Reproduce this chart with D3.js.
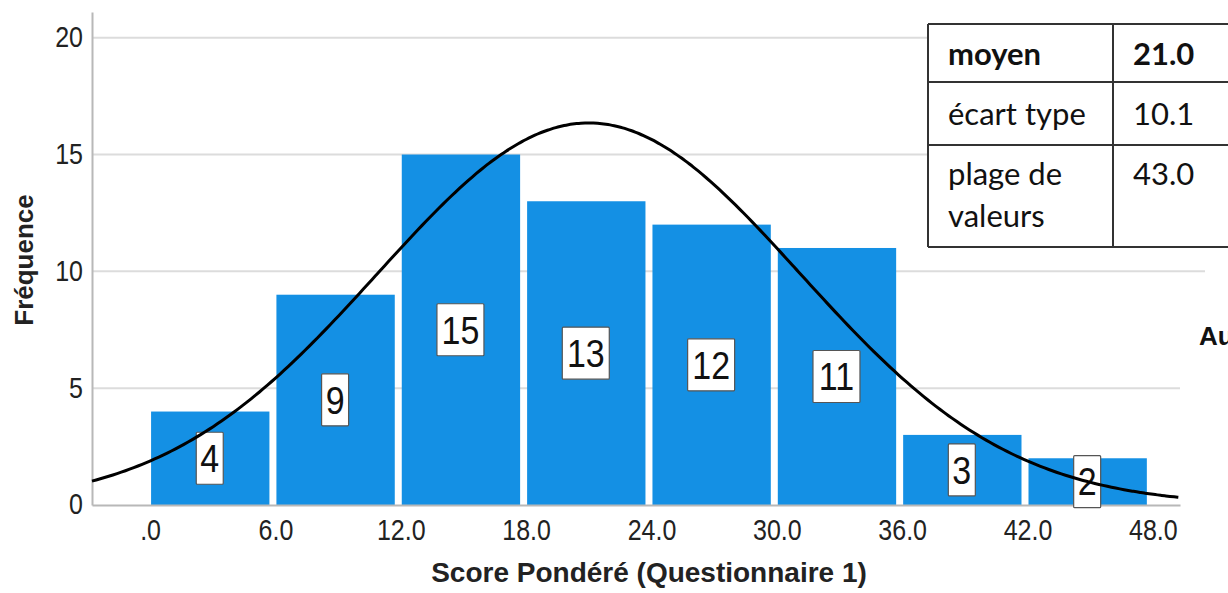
<!DOCTYPE html>
<html>
<head>
<meta charset="utf-8">
<script src="https://cdn.jsdelivr.net/npm/d3@7"></script>
<style>
  body { margin: 0; background: #fff; }
  svg { display: block; }
</style>
</head>
<body>
<svg id="canvas" width="1228" height="593"></svg>
<script>
// histogram bins (lower edge) and counts
let binStarts = [0, 6, 12, 18, 24, 30, 36, 42];
let binWidth = 6;
let counts = [4, 9, 15, 13, 12, 11, 3, 2];

let xTicks = [0, 6, 12, 18, 24, 30, 36, 42, 48];
let yTicks = [0, 5, 10, 15, 20];

// summary table
let statLabels = [['moyen'], ['écart type'], ['plage de', 'valeurs']];
let statValues = ['21.0', '10.1', '43.0'];
let meanValue = 21.0;
let sdValue = 10.1;

let canvas = d3.select('#canvas');

let xScale = d3.scaleLinear().domain([-2.78, 49.3]).range([92, 1180]);
let yScale = d3.scaleLinear().domain([0, 21.1]).range([505, 12]);

const fmtTick = (v) => {
  let s = d3.format('.1f')(v);
  return v === 0 ? s.replace(/^0/, '') : s;
};

// gridlines
canvas.append('g')
  .selectAll('line')
  .data(yTicks.filter(t => t > 0))
  .enter()
  .append('line')
  .attr('x1', xScale.range()[0])
  .attr('x2', (t) => t === 10 ? 1205 : xScale.range()[1])
  .attr('y1', (t) => yScale(t))
  .attr('y2', (t) => yScale(t))
  .attr('stroke', '#dcdcdc')
  .attr('stroke-width', 2);

// bars
let total = d3.sum(counts);
canvas.append('g')
  .selectAll('rect')
  .data(counts)
  .enter()
  .append('rect')
  .attr('x', (d, i) => xScale(binStarts[i]) + 1)
  .attr('y', (d) => yScale(d))
  .attr('width', (d, i) => xScale(binStarts[i] + binWidth) - xScale(binStarts[i]) - 7)
  .attr('height', (d) => yScale(0) - yScale(d))
  .attr('fill', '#1490e4');

// axes
let yAxis = d3.axisLeft(yScale).tickValues(yTicks).tickSize(0).tickPadding(9);
let xAxis = d3.axisBottom(xScale).tickValues(xTicks).tickSize(0).tickPadding(12).tickFormat(fmtTick);

let yG = canvas.append('g').attr('transform', `translate(${xScale.range()[0]},0)`).call(yAxis);
let xG = canvas.append('g').attr('transform', `translate(0,${yScale(0)})`).call(xAxis);

[yG, xG].forEach((g) => {
  g.select('.domain').attr('stroke', '#b8b8b8').attr('stroke-width', 2);
  g.selectAll('text')
    .attr('font-family', 'Liberation Sans, Arial, sans-serif')
    .attr('font-size', 25)
    .attr('fill', '#222')
    .attr('transform', 'scale(1,1.18)');
});
xG.selectAll('text').attr('dy', '0.71em');
yG.selectAll('text').attr('dy', '0.3em');

// normal curve (mean / sd fit scaled to n * bin width)
let pdf = (x) => Math.exp(-0.5 * Math.pow((x - meanValue) / sdValue, 2)) / (sdValue * Math.sqrt(2 * Math.PI));
let curveXs = d3.range(xScale.domain()[0], xScale.domain()[1] + 0.01, 0.2);
let line = d3.line()
  .x((x) => xScale(x))
  .y((x) => yScale(total * binWidth * pdf(x)))
  .curve(d3.curveBasis);

// value labels
let labels = canvas.append('g')
  .selectAll('g')
  .data(counts)
  .enter()
  .append('g')
  .attr('transform', (d, i) => `translate(${xScale(binStarts[i] + binWidth / 2) - 3}, ${yScale(d / 2)})`);

labels.append('rect')
  .attr('x', (d) => String(d).length > 1 ? -23.5 : -13.5)
  .attr('y', -26)
  .attr('width', (d) => String(d).length > 1 ? 47 : 27)
  .attr('height', 52)
  .attr('fill', '#fff')
  .attr('stroke', '#555')
  .attr('stroke-width', 1.2)
  .attr('rx', 1);

labels.append('text')
  .text((d) => d)
  .attr('text-anchor', 'middle')
  .attr('transform', 'scale(1,1.15)')
  .attr('y', 12)
  .attr('font-family', 'Liberation Sans, Arial, sans-serif')
  .attr('font-size', 34)
  .attr('fill', '#111');

canvas.append('path')
  .datum(curveXs)
  .attr('d', line)
  .attr('fill', 'none')
  .attr('stroke', '#000')
  .attr('stroke-width', 3);

// axis titles
canvas.append('text')
  .text('Fréquence')
  .attr('transform', 'translate(33,260) rotate(-90)')
  .attr('text-anchor', 'middle')
  .attr('font-family', 'Liberation Sans, Arial, sans-serif')
  .attr('font-weight', 'bold')
  .attr('font-size', 26)
  .attr('fill', '#222');

canvas.append('text')
  .text('Score Pondéré (Questionnaire 1)')
  .attr('x', 649)
  .attr('y', 582)
  .attr('text-anchor', 'middle')
  .attr('font-family', 'Liberation Sans, Arial, sans-serif')
  .attr('font-weight', 'bold')
  .attr('font-size', 28)
  .attr('fill', '#222');

// partially visible legend title, clipped by the right edge as in the source
canvas.append('text')
  .text('Au')
  .attr('x', 1199)
  .attr('y', 345)
  .attr('font-family', 'Liberation Sans, Arial, sans-serif')
  .attr('font-weight', 'bold')
  .attr('font-size', 26)
  .attr('fill', '#111');

// stats table
let rowEdges = [24, 82, 145, 247];
let table = canvas.append('g');
table.append('rect')
  .attr('x', 928).attr('y', rowEdges[0])
  .attr('width', 320).attr('height', rowEdges[3] - rowEdges[0])
  .attr('fill', '#fff');
rowEdges.forEach((y) => {
  table.append('line').attr('x1', 928).attr('x2', 1228).attr('y1', y).attr('y2', y)
    .attr('stroke', '#333').attr('stroke-width', 2);
});
[928, 1113].forEach((x) => {
  table.append('line').attr('x1', x).attr('x2', x).attr('y1', rowEdges[0]).attr('y2', rowEdges[3])
    .attr('stroke', '#333').attr('stroke-width', 2);
});

let baselines = [65, 125, 185];
statLabels.forEach((lines, i) => {
  lines.forEach((t, j) => {
    table.append('text')
      .text(t)
      .attr('x', 948)
      .attr('y', baselines[i] + j * 42)
      .attr('font-family', 'Lato, Open Sans, sans-serif')
      .attr('font-weight', i === 0 ? 'bold' : 'normal')
      .attr('font-size', 31)
      .attr('fill', '#111');
  });
  table.append('text')
    .text(statValues[i])
    .attr('x', 1133)
    .attr('y', baselines[i])
    .attr('font-family', 'Lato, Open Sans, sans-serif')
    .attr('font-weight', i === 0 ? 'bold' : 'normal')
    .attr('font-size', 31)
    .attr('fill', '#111');
});
</script>
</body>
</html>
